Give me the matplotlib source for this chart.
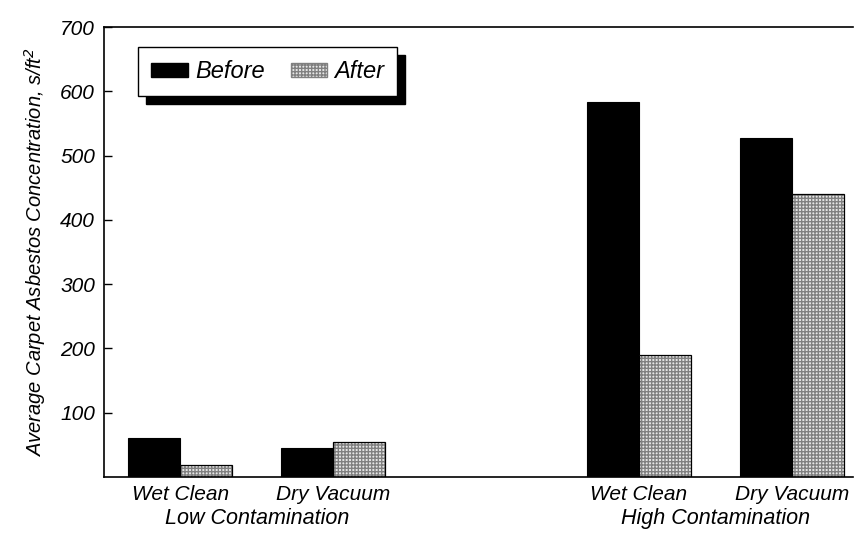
import numpy as np
import matplotlib.pyplot as plt
from matplotlib.patches import Patch

plt.rcParams['font.family'] = ['Liberation Sans', 'DejaVu Sans']
plt.rcParams['font.style'] = 'italic'

methods = ["Wet Clean", "Dry Vacuum", "Wet Clean", "Dry Vacuum"]
groups = ["Low Contamination", "High Contamination"]
before = [60, 45, 584, 528]
after = [18, 54, 190, 441]
positions = [0, 1, 3, 4]
yticks = [100, 200, 300, 400, 500, 600, 700]

fig = plt.figure(figsize=(8.55, 5.34), dpi=100)
ax = fig.add_axes([0.1216, 0.1067, 0.876, 0.8427])

x = np.array(positions)
w = 0.34
ax.bar(x - w / 2, before, w, color="black", edgecolor="black", linewidth=0.8)
# hatched fill first, then a clean black outline
ax.bar(x + w / 2, after, w, color="#e6e6e6", edgecolor="#808080", hatch="+++++", linewidth=0)
ax.bar(x + w / 2, after, w, fill=False, edgecolor="black", linewidth=0.9)

ax.set_xlim(-0.5, 4.4)
ax.set_ylim(0, 700)
ax.set_yticks(yticks)
ax.tick_params(axis="y", direction="in", length=6, width=1, labelsize=15, pad=6.5)
ax.tick_params(axis="x", length=0, labelsize=15, pad=6)
ax.set_xticks(x)
ax.set_xticklabels(methods)

ax.text(0.5, -0.068, groups[0], transform=ax.get_xaxis_transform(), ha="center", va="top", fontsize=15.5)
ax.text(3.5, -0.068, groups[1], transform=ax.get_xaxis_transform(), ha="center", va="top", fontsize=15.5)

ax.set_ylabel("Average Carpet Asbestos Concentration, s/ft$^2$", fontsize=14.5, labelpad=9)
ax.spines["right"].set_visible(False)
for s in ["left", "top", "bottom"]:
    ax.spines[s].set_linewidth(1.2)

handles = [
    Patch(facecolor="black", edgecolor="black"),
    Patch(facecolor="#e6e6e6", edgecolor="#808080", hatch="+++++"),
]
leg = ax.legend(handles, ["Before", "After"], ncol=2, loc="upper left",
                bbox_to_anchor=(0.046, 0.955), borderaxespad=0, fancybox=False,
                fontsize=17, handlelength=1.55, handleheight=0.55, handletextpad=0.3,
                columnspacing=1.1, borderpad=0.55, framealpha=1, edgecolor="black",
                shadow={"ox": 5.8, "oy": -5.8, "facecolor": "black", "edgecolor": "black", "alpha": 1})
leg.get_frame().set_linewidth(1.0)

fig.savefig("out.png", dpi=100)
